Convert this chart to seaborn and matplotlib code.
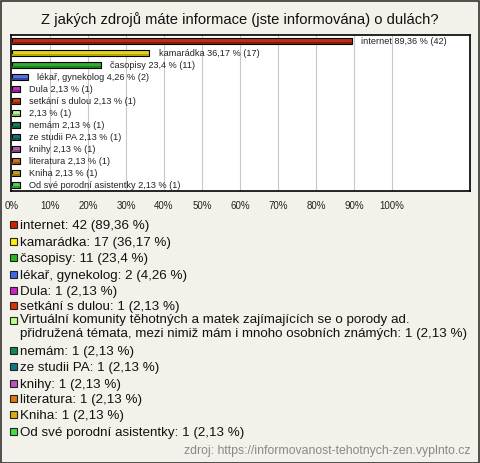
import matplotlib
matplotlib.use("Agg")
import matplotlib.pyplot as plt
import matplotlib.colors as mcolors
import seaborn as sns
import pandas as pd
from matplotlib.patches import Rectangle

# ========== Data ==========
categories = [
    "internet", "kamarádka", "časopisy", "lékař, gynekolog", "Dula",
    "setkání s dulou",
    "Virtuální komunity těhotných a matek zajímajících se o porody ad.\n"
    "přidružená témata, mezi nimiž mám i mnoho osobních známých",
    "nemám", "ze studii PA", "knihy", "literatura", "Kniha",
    "Od své porodní asistentky",
]
bar_names = [
    "internet", "kamarádka", "časopisy", "lékař, gynekolog", "Dula",
    "setkání s dulou", "", "nemám", "ze studii PA", "knihy", "literatura",
    "Kniha", "Od své porodní asistentky",
]
counts = [42, 17, 11, 2, 1, 1, 1, 1, 1, 1, 1, 1, 1]
percents = [89.36, 36.17, 23.4, 4.26, 2.13, 2.13, 2.13, 2.13, 2.13, 2.13, 2.13, 2.13, 2.13]
colors = [
    "#cc2200", "#ffee00", "#22bb22", "#4466ee", "#cc22cc", "#dd3300",
    "#bbff88", "#118855", "#117788", "#bb55bb", "#dd7711", "#ddaa11",
    "#44dd44",
]
xticks = list(range(0, 101, 10))

def fmt(v):
    return f"{v:g}".replace(".", ",")

def darker(c, f=0.7):
    r, g, b = mcolors.to_rgb(c)
    return (r * f, g * f, b * f)

df = pd.DataFrame({"cat": categories, "pct": percents, "n": counts})

# ========== Figure ==========
W, H = 480, 463
BG = "#f3f2ea"
fig = plt.figure(figsize=(W / 100, H / 100), dpi=100, facecolor=BG)
plt.rcParams["font.family"] = ["Liberation Sans", "DejaVu Sans"]

# outer frame
fig.add_artist(Rectangle((0.5 / W, 0.5 / H), 1 - 1.5 / W, 1 - 1.5 / H,
                         transform=fig.transFigure, fill=False,
                         edgecolor="#333333", linewidth=1.2))

fig.text(0.5, 1 - 20 / H, "Z jakých zdrojů máte informace (jste informována) o dulách?",
         ha="center", va="center", fontsize=10.6, color="#111111")

# ========== Bar chart ==========
ax = fig.add_axes([11 / W, 1 - 191 / H, 459 / W, 156 / H])
ax.set_facecolor("white")
sns.barplot(data=df, x="pct", y="cat", hue="cat", palette=colors, orient="h",
            width=0.48, edgecolor="black", linewidth=0.8, legend=False, ax=ax)
# thin darker band at the bottom for a slight 3D look
ax.barh([i + 0.16 for i in range(len(percents))], percents, height=0.1,
        color=[darker(c) for c in colors], edgecolor="none", zorder=3)
ax.set_xlim(-0.26, 120.5)
ax.set_ylim(12.5, -0.5)
ax.set_xticks(xticks)
ax.set_xticklabels([f"{t}%" for t in xticks], fontsize=7, color="#222222")
ax.tick_params(axis="x", length=0, pad=7)
ax.set_yticks([])
ax.set_xlabel("")
ax.set_ylabel("")
for t in xticks[1:]:
    ax.axvline(t, color="#c8c8c8", linewidth=0.8, zorder=0)
for s in ax.spines.values():
    s.set_color("black")
    s.set_linewidth(1.2)

for i, (name, p, n) in enumerate(zip(bar_names, percents, counts)):
    label = f"{name} {fmt(p)} % ({n})".strip()
    ax.text(p + 2.4, i, label, va="center", ha="left", fontsize=6.6, color="#222222")

# ========== Legend ==========
legend_y = [225, 242, 258, 275, 291, 306, 321, 351, 367, 384, 399, 415, 432]
for y, cat, n, p, c in zip(legend_y, categories, counts, percents, colors):
    fig.add_artist(Rectangle((9.5 / W, 1 - (y + 3) / H), 7 / W, 7 / H,
                             transform=fig.transFigure, facecolor=c,
                             edgecolor="#222222", linewidth=0.8))
    text = f"{cat}: {n} ({fmt(p)} %)"
    if "\n" in cat:
        fig.text(20 / W, 1 - (y - 7.5) / H, text, ha="left", va="top",
                 fontsize=9.6, color="#111111", linespacing=1.25)
    else:
        fig.text(20 / W, 1 - (y + 4) / H, text, ha="left", va="baseline",
                 fontsize=9.6, color="#111111")

fig.text(470 / W, 1 - 451 / H, "zdroj: https://informovanost-tehotnych-zen.vyplnto.cz",
         ha="right", va="center", fontsize=8.8, color="#888888")

fig.savefig("out.png", dpi=100, facecolor=BG)
